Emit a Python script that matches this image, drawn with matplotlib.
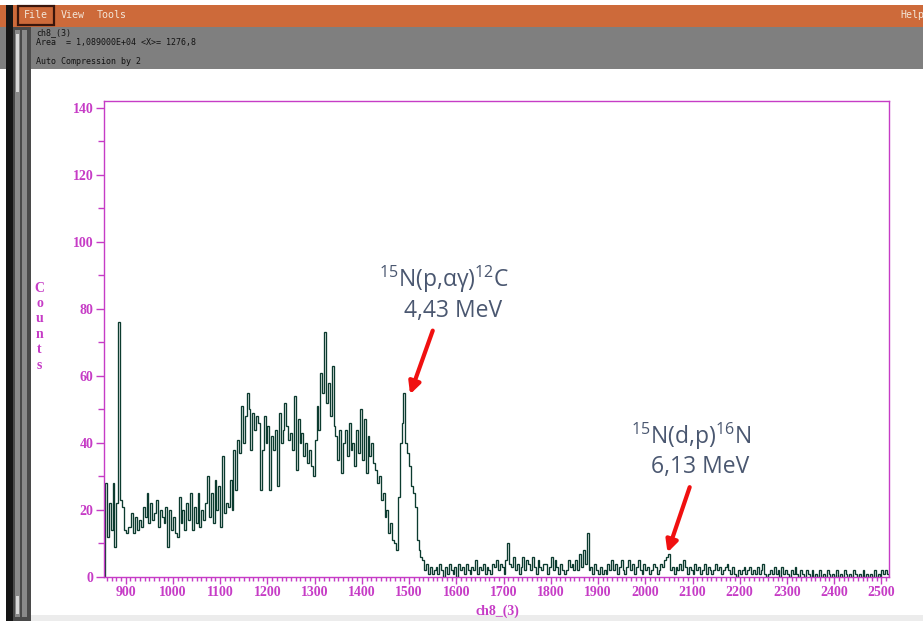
import numpy as np
import matplotlib
matplotlib.use("Agg")
import matplotlib.pyplot as plt
from matplotlib.patches import Rectangle
from matplotlib.ticker import MultipleLocator

# ---- spectrum: counts per 4-channel bin, starting at channel 856 ----
start_channel = 856
bin_width = 4

counts_856_952 = [28, 12, 22, 14, 28, 9, 22, 76, 23, 21, 14, 13, 15, 15, 19, 13, 18, 14, 17, 15, 21, 18, 25, 16, 22]
counts_956_1052 = [17, 19, 23, 15, 20, 18, 16, 21, 9, 20, 14, 18, 13, 12, 24, 16, 20, 14, 22, 17, 25, 14, 21, 16, 25]
counts_1056_1152 = [15, 20, 17, 22, 30, 18, 25, 16, 29, 20, 27, 15, 36, 19, 22, 21, 29, 20, 38, 26, 41, 37, 51, 40, 48]
counts_1156_1252 = [55, 50, 38, 49, 44, 48, 46, 26, 38, 48, 40, 45, 26, 42, 38, 44, 27, 49, 40, 44, 52, 45, 41, 43, 38]
counts_1256_1352 = [54, 32, 47, 40, 43, 36, 40, 34, 38, 33, 30, 41, 51, 44, 61, 55, 73, 52, 58, 48, 63, 45, 42, 35, 44]
counts_1356_1452 = [31, 40, 44, 36, 46, 38, 40, 33, 44, 37, 50, 35, 47, 31, 42, 36, 40, 34, 32, 28, 30, 23, 25, 18, 20]
counts_1456_1552 = [13, 16, 11, 10, 8, 24, 40, 46, 55, 40, 37, 33, 27, 25, 21, 11, 8, 6, 5, 2, 4, 1, 3, 1, 2]
counts_1556_1652 = [3, 1, 4, 2, 0, 3, 1, 4, 2, 1, 3, 0, 4, 2, 3, 1, 4, 2, 1, 3, 2, 5, 1, 3, 2]
counts_1656_1752 = [4, 1, 3, 2, 1, 4, 3, 5, 2, 4, 3, 1, 5, 10, 4, 3, 6, 2, 4, 1, 3, 6, 2, 5, 4]
counts_1756_1852 = [2, 6, 3, 1, 5, 3, 2, 4, 4, 1, 3, 6, 2, 5, 3, 1, 4, 2, 1, 2, 5, 3, 4, 2, 5]
counts_1856_1952 = [2, 7, 3, 8, 4, 13, 2, 3, 1, 4, 2, 1, 3, 1, 2, 1, 4, 2, 5, 2, 4, 1, 3, 5, 2]
counts_1956_2052 = [1, 3, 5, 2, 4, 1, 3, 5, 2, 1, 4, 2, 3, 1, 2, 4, 3, 1, 2, 4, 3, 5, 6, 7, 2]
counts_2056_2152 = [3, 1, 3, 2, 4, 2, 5, 3, 1, 3, 2, 1, 4, 2, 3, 1, 2, 4, 1, 3, 2, 1, 2, 4, 2]
counts_2156_2252 = [3, 1, 2, 3, 4, 2, 1, 3, 1, 0, 2, 1, 2, 3, 1, 2, 3, 1, 2, 1, 3, 1, 2, 4, 1]
counts_2256_2352 = [0, 1, 2, 1, 3, 1, 2, 0, 3, 1, 2, 1, 0, 2, 1, 3, 1, 0, 2, 1, 0, 2, 1, 0, 2]
counts_2356_2452 = [0, 1, 0, 2, 0, 1, 0, 2, 1, 0, 1, 0, 2, 0, 1, 0, 2, 1, 0, 1, 0, 2, 1, 0, 1]
counts_2456_2512 = [0, 2, 0, 1, 0, 1, 0, 2, 0, 1, 0, 2, 1, 2, 1]

counts = np.array(
    counts_856_952 + counts_956_1052 + counts_1056_1152 + counts_1156_1252
    + counts_1256_1352 + counts_1356_1452 + counts_1456_1552 + counts_1556_1652
    + counts_1656_1752 + counts_1756_1852 + counts_1856_1952 + counts_1956_2052
    + counts_2056_2152 + counts_2156_2252 + counts_2256_2352 + counts_2356_2452
    + counts_2456_2512, dtype=float)
edges = start_channel + bin_width * np.arange(len(counts) + 1)

x_ticks = list(range(900, 2501, 100))
y_ticks = list(range(0, 141, 20))

# annotated peaks: (label line 1, label line 2, arrow tip, arrow tail) in data units
peak_labels = [
    (r"$^{15}$N(p,αγ)$^{12}$C", "4,43 MeV", (1502, 54.5), (1550, 73.5)),
    (r"$^{15}$N(d,p)$^{16}$N", "6,13 MeV", (2047, 7.3), (2094, 26.8)),
]

# ---- styling ----
W, H = 923, 621
MAGENTA = "#c63cc6"
TRACE = "#0c3b2f"
NOTE = "#4a5770"

plt.rcParams["mathtext.fontset"] = "custom"
plt.rcParams["mathtext.rm"] = "Open Sans"
plt.rcParams["mathtext.default"] = "rm"

fig = plt.figure(figsize=(W / 100, H / 100), dpi=100)
fig.patch.set_facecolor("white")


def fx(px):
    return px / W


def fy(py):
    return 1 - py / H


def box(x0, y0, x1, y1, color, **kw):
    fig.patches.append(Rectangle((fx(x0), fy(y1)), fx(x1) - fx(x0), fy(y0) - fy(y1),
                                 transform=fig.transFigure, facecolor=color,
                                 edgecolor=kw.pop("edgecolor", "none"), **kw))


# window chrome: menu bar, info panel, left scroll strip
box(0, 5, W, 27, "#cd6a3a")
box(0, 27, W, 69, "#7f7f7f")
box(6, 5, 13, H, "#151515")
box(13, 27, 31, H, "#4a4a4a")
box(15, 30, 20, H - 4, "#8a8a8a")
box(22, 30, 27, H - 4, "#8a8a8a")
box(16, 34, 19, 92, "#d8d8d8")
box(16, 596, 19, 614, "#d8d8d8")
box(31, 615, W, H, "#ececec")
box(18, 6, 54, 25, "none", edgecolor="#3a160c", linewidth=1.6)

menu_font = dict(family="DejaVu Sans Mono", fontsize=7.2, color="#f3e6d8", va="center")
fig.text(fx(24), fy(15.5), "File", **menu_font)
fig.text(fx(61), fy(15.5), "View", **menu_font)
fig.text(fx(97), fy(15.5), "Tools", **menu_font)
fig.text(fx(900), fy(15.5), "Help", **menu_font)

info_font = dict(family="DejaVu Sans Mono", fontsize=6.0, color="#141414", va="center")
fig.text(fx(36), fy(32.5), "ch8_(3)", **info_font)
fig.text(fx(36), fy(43), "Area  = 1,089000E+04 <X>= 1276,8", **info_font)
fig.text(fx(36), fy(62), "Auto Compression by 2", **info_font)

# ---- spectrum axes ----
ax = fig.add_axes([fx(104), fy(577), fx(889) - fx(104), fy(101) - fy(577)])
ax.set_facecolor("white")
ax.stairs(counts, edges, color=TRACE, linewidth=0.95)
ax.set_xlim(854, 2516)
ax.set_ylim(0, 142)

for s in ax.spines.values():
    s.set_color(MAGENTA)
    s.set_linewidth(1.0)

ax.set_xticks(x_ticks)
ax.set_yticks(y_ticks)
ax.xaxis.set_minor_locator(MultipleLocator(10))
ax.yaxis.set_minor_locator(MultipleLocator(10))
ax.tick_params(axis="both", which="both", direction="out", color=MAGENTA,
               labelcolor=MAGENTA, width=1.0)
ax.tick_params(axis="y", which="major", length=6, pad=1.5)
ax.tick_params(axis="y", which="minor", length=4.5)
ax.tick_params(axis="x", which="major", length=5, pad=1.5)
ax.tick_params(axis="x", which="minor", length=2.8)
for lab in ax.get_xticklabels() + ax.get_yticklabels():
    lab.set_fontfamily("Liberation Serif")
    lab.set_fontweight("bold")
    lab.set_fontsize(10)

# axis titles
for i, ch in enumerate("Counts"):
    fig.text(fx(39.5), fy(288 + i * 15.5), ch, family="Liberation Serif", fontweight="bold",
             fontsize=10, color=MAGENTA, ha="center", va="center")
fig.text(fx(497), fy(611), "ch8_(3)", family="Liberation Serif", fontweight="bold",
         fontsize=10, color=MAGENTA, ha="center", va="center")

# peak annotations
text_pos = [((444, 279), (453, 311)), ((691, 436), (700, 467))]
for (line1, line2, tip, tail), (p1, p2) in zip(peak_labels, text_pos):
    fig.text(fx(p1[0]), fy(p1[1]), line1, family="Open Sans", fontsize=16.5,
             color=NOTE, ha="center", va="center")
    fig.text(fx(p2[0]), fy(p2[1]), line2, family="Open Sans", fontsize=16.5,
             color=NOTE, ha="center", va="center")
    ax.annotate("", xy=tip, xytext=tail, xycoords="data", textcoords="data",
                annotation_clip=False,
                arrowprops=dict(arrowstyle="-|>,head_length=0.7,head_width=0.35",
                                color="#f01010", lw=3.0, shrinkA=0, shrinkB=0))

fig.savefig("out.png", dpi=100)
